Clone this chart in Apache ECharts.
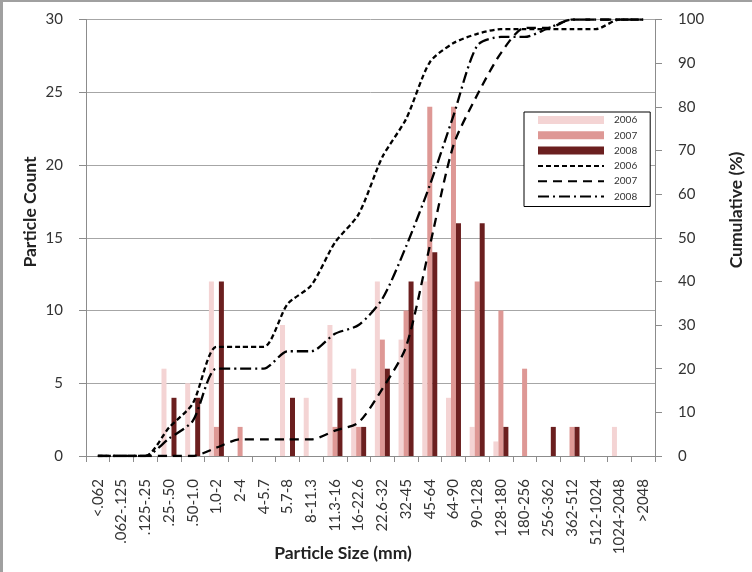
<!DOCTYPE html>
<html>
<head>
<meta charset="utf-8">
<script src="https://cdn.jsdelivr.net/npm/echarts@6/dist/echarts.min.js"></script>
<style>
  html, body { margin: 0; padding: 0; background: #fff; }
  #chart { width: 752px; height: 572px; }
  #frame { position: absolute; left: 0; top: 0; width: 752px; height: 572px;
           border-left: 3px solid #a0a0a0; border-top: 2px solid #a0a0a0;
           box-sizing: border-box; pointer-events: none; }
</style>
</head>
<body>
<div id="chart"></div>
<div id="frame"></div>
<script>
// Size classes (mm)
const categories = ['<.062', '.062-.125', '.125-.25', '.25-.50', '.50-1.0', '1.0-2', '2-4', '4-5.7',
  '5.7-8', '8-11.3', '11.3-16', '16-22.6', '22.6-32', '32-45', '45-64', '64-90', '90-128',
  '128-180', '180-256', '256-362', '362-512', '512-1024', '1024-2048', '>2048'];

// Particle counts per size class
const count2006 = [0, 0, 0, 6, 5, 12, 0, 0, 9, 4, 9, 6, 12, 8, 12, 4, 2, 1, 0, 0, 0, 0, 2, 0];
const count2007 = [0, 0, 0, 0, 0, 2, 2, 0, 0, 0, 2, 2, 8, 10, 24, 24, 12, 10, 6, 0, 2, 0, 0, 0];
const count2008 = [0, 0, 0, 4, 4, 12, 0, 0, 4, 0, 4, 2, 6, 12, 14, 16, 16, 2, 0, 2, 2, 0, 0, 0];

// Cumulative percent finer than each class
const cum2006 = [0, 0, 0, 6.5, 12, 25, 25, 25, 34.8, 39.1, 48.9, 55.4, 68.5, 77.2, 90.2, 94.6, 96.7, 97.8, 97.8, 97.8, 97.8, 97.8, 100, 100];
const cum2007 = [0, 0, 0, 0, 0, 1.9, 3.8, 3.8, 3.8, 3.8, 5.8, 7.7, 15.4, 25, 48.1, 71.2, 82.7, 92.3, 98.1, 98.1, 100, 100, 100, 100];
const cum2008 = [0, 0, 0, 4, 8, 20, 20, 20, 24, 24, 28, 30, 36, 48, 62, 78, 94, 96, 96, 98, 100, 100, 100, 100];

// Axis ticks
const countTicks = { min: 0, max: 30, interval: 5 };
const pctTicks = { min: 0, max: 100, interval: 10 };

const FONT = 'Lato, "Open Sans", sans-serif';
const TITLE_FONT = 'bold 17.5px ' + FONT;
const barColors = ['#f4d4d4', '#de9895', '#6b1f1f'];

const chart = echarts.init(document.getElementById('chart'), null, { renderer: 'canvas' });

function barSeries(name, data, color) {
  return {
    type: 'bar', name: name, data: data, yAxisIndex: 0,
    barWidth: 5, barGap: '0%',
    itemStyle: { color: color },
    emphasis: { disabled: true }
  };
}
function lineSeries(name, data, dash) {
  return {
    type: 'line', name: name, data: data, yAxisIndex: 1,
    symbol: 'none', smooth: 0.25,
    itemStyle: { color: '#000' },
    lineStyle: { color: '#000', width: 2.3, type: dash },
    emphasis: { disabled: true }
  };
}

chart.setOption({
  animation: false,
  textStyle: { fontFamily: FONT },
  grid: { left: 86, right: 97, top: 19.5, bottom: 116 },
  legend: {
    orient: 'vertical', left: 524, top: 112,
    backgroundColor: '#fff', borderColor: '#000', borderWidth: 1,
    padding: [3, 13, 5, 13], itemGap: 5.3,
    itemWidth: 66, itemHeight: 8,
    selectedMode: false,
    textStyle: { fontSize: 10, color: '#333', lineHeight: 10, padding: [0, 0, 0, 5] },
    formatter: n => n.trim(),
    data: [
      { name: '2006', icon: 'rect' }, { name: '2007', icon: 'rect' }, { name: '2008', icon: 'rect' },
      { name: '2006 ', itemStyle: { opacity: 0 } },
      { name: '2007 ', itemStyle: { opacity: 0 } },
      { name: '2008 ', itemStyle: { opacity: 0 } }
    ]
  },
  xAxis: {
    type: 'category', data: categories,
    axisLine: { lineStyle: { color: '#8c8c8c', width: 1 } },
    axisTick: { show: true, length: 6, lineStyle: { color: '#8c8c8c' } },
    axisLabel: { rotate: 90, margin: 23, fontSize: 15, color: '#333', interval: 0 }
  },
  yAxis: [
    {
      type: 'value', min: countTicks.min, max: countTicks.max, interval: countTicks.interval,
      axisLine: { show: true, lineStyle: { color: '#8c8c8c' } },
      axisTick: { show: true, length: 7, lineStyle: { color: '#8c8c8c' } },
      axisLabel: { fontSize: 15, color: '#333', margin: 23 },
      splitLine: { show: true, lineStyle: { color: '#a6a6a6', width: 1 } }
    },
    {
      type: 'value', min: pctTicks.min, max: pctTicks.max, interval: pctTicks.interval,
      position: 'right',
      axisLine: { show: true, lineStyle: { color: '#8c8c8c' } },
      axisTick: { show: true, length: 7, lineStyle: { color: '#8c8c8c' } },
      axisLabel: { fontSize: 15, color: '#333', margin: 23 },
      splitLine: { show: false }
    }
  ],
  graphic: [
    {
      type: 'text', x: 343, y: 553,
      style: { text: 'Particle Size (mm)', font: TITLE_FONT, fill: '#222', textAlign: 'center', textVerticalAlign: 'middle' }
    },
    {
      type: 'text', x: 30, y: 212, rotation: Math.PI / 2,
      style: { text: 'Particle Count', font: TITLE_FONT, fill: '#222', textAlign: 'center', textVerticalAlign: 'middle' }
    },
    {
      type: 'text', x: 736, y: 210, rotation: Math.PI / 2,
      style: { text: 'Cumulative (%)', font: TITLE_FONT, fill: '#222', textAlign: 'center', textVerticalAlign: 'middle' }
    }
  ],
  series: [
    barSeries('2006', count2006, barColors[0]),
    barSeries('2007', count2007, barColors[1]),
    barSeries('2008', count2008, barColors[2]),
    lineSeries('2006 ', cum2006, [5, 3]),
    lineSeries('2007 ', cum2007, [9, 6]),
    lineSeries('2008 ', cum2008, [11, 4, 2, 4])
  ]
});
</script>
</body>
</html>
